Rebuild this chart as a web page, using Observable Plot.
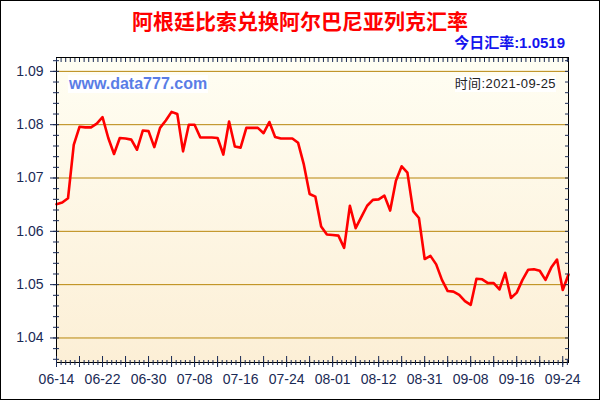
<!DOCTYPE html>
<html>
<head>
<meta charset="utf-8">
<script src="https://cdn.jsdelivr.net/npm/d3@7"></script>
<script src="https://cdn.jsdelivr.net/npm/@observablehq/plot@0.6"></script>
<style>
  html, body { margin: 0; padding: 0; background: #fff; }
  #wrap { position: relative; width: 600px; height: 400px; overflow: hidden; }
  #wrap svg { position: absolute; left: 0; top: 0; }
  .border { position: absolute; left: 0; top: 0; width: 600px; height: 400px; box-sizing: border-box; border: 1px solid #000; pointer-events: none; }
  .title { position: absolute; left: 0; top: 8px; width: 600px; text-align: center; font: bold 21px/24px "Noto Sans CJK SC", sans-serif; color: #ff0000; }
  .today { position: absolute; right: 35px; top: 34px; font: bold 15px/18px "Liberation Sans", "Noto Sans CJK SC", sans-serif; color: #1414ee; }
  .site { position: absolute; left: 68px; top: 75px; font: bold 16px/18px "Liberation Sans", sans-serif; color: #5a7de6; background: #fff; padding: 0 1px; }
  .time { position: absolute; right: 44px; top: 76px; font: 13px/16px "Liberation Sans", "Noto Sans CJK SC", sans-serif; letter-spacing: 0.4px; color: #222; background: #fff; }
</style>
</head>
<body>
<div id="wrap">
  <div class="title">阿根廷比索兑换阿尔巴尼亚列克汇率</div>
  <div class="today">今日汇率:1.0519</div>
  <div class="site">www.data777.com</div>
  <div class="time">时间:2021-09-25</div>
  <div class="border"></div>
</div>
<script>
// ---- data ----
const tickLabels = ["06-14","06-22","06-30","07-08","07-16","07-24","08-01","08-12","08-31","09-08","09-16","09-24"];
const rates = [
  1.0651, 1.0654, 1.0662, 1.0762, 1.0796, 1.0795, 1.0795, 1.0802, 1.0814, 1.0775,
  1.0745, 1.0775, 1.0774, 1.0772, 1.0753, 1.0789, 1.0788, 1.0758, 1.0794, 1.0808,
  1.0824, 1.0820, 1.0750, 1.0800, 1.0800, 1.0776, 1.0776, 1.0776, 1.0775, 1.0744,
  1.0806, 1.0759, 1.0757, 1.0794, 1.0794, 1.0794, 1.0784, 1.0805, 1.0777, 1.0774,
  1.0774, 1.0774, 1.0766, 1.0725, 1.0670, 1.0665, 1.0609, 1.0594, 1.0593, 1.0592,
  1.0569, 1.0648, 1.0606, 1.0627, 1.0648, 1.0659, 1.0660, 1.0667, 1.0639, 1.0695,
  1.0722, 1.0710, 1.0638, 1.0625, 1.0548, 1.0554, 1.0538, 1.0509, 1.0488, 1.0487,
  1.0481, 1.0469, 1.0462, 1.0511, 1.0510, 1.0503, 1.0503, 1.0491, 1.0522, 1.0475,
  1.0485, 1.0509, 1.0528, 1.0529, 1.0526, 1.0509, 1.0532, 1.0547, 1.0490, 1.0519
];
const yMajor = [1.04, 1.05, 1.06, 1.07, 1.08, 1.09];
const yDomain = [1.0354, 1.0926];
const labelStep = 8;

// ---- derived ----
const data = rates.map((v, i) => ({i, v}));
const n = rates.length;
const yMinor = d3.range(1036, 1093, 2).map(d => d / 1000);
const xMinor = d3.range(0, n - 0.5, 0.8);
const xMajor = d3.range(0, n, 4);
const xLabels = tickLabels.map((_, k) => k * labelStep);
const blank = () => "";

const chart = Plot.plot({
  width: 600,
  height: 400,
  marginLeft: 56,
  marginRight: 32,
  marginTop: 57,
  marginBottom: 38,
  style: {fontFamily: "Liberation Sans, Arial, sans-serif", fontSize: "14px", color: "#1a2a55", background: "transparent"},
  x: {domain: [0, n - 1]},
  y: {domain: yDomain},
  marks: [
    Plot.frame({fill: "url(#bggrad)"}),
    Plot.gridY(yMajor, {stroke: "#b8860b", strokeOpacity: 1, strokeWidth: 1}),
    Plot.line(data, {x: "i", y: "v", stroke: "#ff0000", strokeWidth: 2.6}),
    Plot.frame({stroke: "#000", strokeWidth: 1}),
    // left axis
    Plot.axisY(yMajor, {anchor: "left", tickSize: 6, tickPadding: 7, tickFormat: d => d.toFixed(2), fontSize: 14, label: null}),
    Plot.axisY(yMinor, {anchor: "left", tickSize: 6, dx: 3, tickFormat: blank, label: null}),
    // right axis (inner ticks)
    Plot.axisY(yMinor, {anchor: "right", tickSize: -4, tickFormat: blank, label: null}),
    // top axis (inner ticks)
    Plot.axisX(xMinor, {anchor: "top", tickSize: -4, tickFormat: blank, label: null}),
    // bottom axis
    Plot.axisX(xMinor, {anchor: "bottom", tickSize: 5, dy: -2, tickFormat: blank, label: null}),
    Plot.axisX(xMajor, {anchor: "bottom", tickSize: 11, dy: -6, tickFormat: blank, label: null}),
    Plot.axisX(xLabels, {anchor: "bottom", tickSize: 0, tickPadding: 12, tickFormat: i => tickLabels[i / labelStep], fontSize: 14, label: null})
  ]
});

const defs = d3.select(chart).insert("defs", ":first-child");
const grad = defs.append("linearGradient").attr("id", "bggrad").attr("x1", 0).attr("y1", 0).attr("x2", 0).attr("y2", 1);
grad.append("stop").attr("offset", "0%").attr("stop-color", "#fffef3");
grad.append("stop").attr("offset", "100%").attr("stop-color", "#fcefd6");

document.getElementById("wrap").insertBefore(chart, document.getElementById("wrap").firstChild);
</script>
</body>
</html>
